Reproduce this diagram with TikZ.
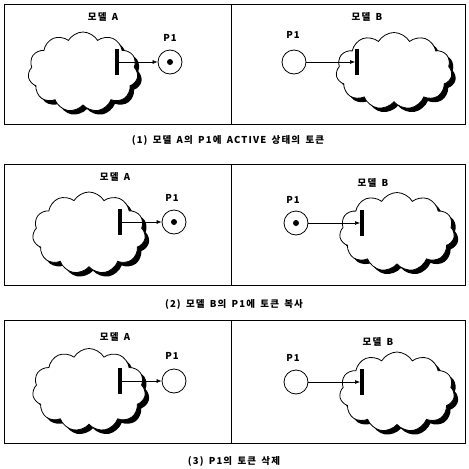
\documentclass[tikz,border=0pt]{standalone}
\usepackage{fontspec}
\setmainfont{Noto Sans CJK KR}
\newfontfamily\krsp{Noto Sans CJK KR}[LetterSpace=12,WordSpace=1.6]
\usetikzlibrary{shapes.symbols,shadows,arrows.meta}
\begin{document}
\begin{tikzpicture}[x=1pt,y=-1pt,
  cloudshape/.style={cloud, cloud puffs=11, cloud puff arc=120, cloud ignores aspect,
    draw, fill=white, line width=0.8pt, inner sep=0pt,
    drop shadow={shadow xshift=4pt, shadow yshift=-4pt, fill=black, opacity=1}},
  place/.style={circle, draw, line width=0.8pt, minimum size=24pt, inner sep=0pt, fill=white},
  tokendot/.style={circle, fill=black, minimum size=6pt, inner sep=0pt},
  tbar/.style={rectangle, fill=black, minimum width=3.6pt, minimum height=26pt, inner sep=0pt},
  lbl/.style={font=\krsp\bfseries\fontsize{9.5}{11}\selectfont, inner sep=0pt},
  captext/.style={font=\krsp\bfseries\fontsize{9.5}{11}\selectfont, inner sep=0pt},
  arr/.style={-{Latex[length=5pt,width=4pt]}, line width=0.6pt},
  frame/.style={line width=0.9pt}]
\useasboundingbox (0,0) rectangle (469,469);

% ---------- panel 1 ----------
\draw[frame] (4,4) rectangle (465,124);
\draw[frame] (231,4) -- (231,124);
\node[lbl] (ma1) at (103,17) {모델 A};
\node[cloudshape, minimum width=110pt, minimum height=80pt] (ca1) at (83,72) {};
\node[tbar] (ta1) at (117,62) {};
\node[place] (pa1) at (170,62) {};
\node[tokendot] (ka1) at (pa1) {};
\draw[arr] (ta1) -- (pa1);
\node[lbl] (la1) at (170,38) {P1};
\node[lbl] (mb1) at (367,17) {모델 B};
\node[cloudshape, minimum width=116pt, minimum height=77pt] (cb1) at (394,71) {};
\node[tbar] (tb1) at (357,62) {};
\node[place] (pb1) at (294,62) {};
\draw[arr] (pb1) -- (tb1);
\node[lbl] (lb1) at (293,35) {P1};
\node[captext] (c1) at (228,140) {(1) 모델 A의 P1에 ACTIVE 상태의 토큰};

% ---------- panel 2 ----------
\draw[frame] (4,164) rectangle (465,285);
\draw[frame] (231,164) -- (231,285);
\node[lbl] (ma2) at (115,177) {모델 A};
\node[cloudshape, minimum width=113pt, minimum height=82pt] (ca2) at (89,233) {};
\node[tbar] (ta2) at (120,222) {};
\node[place] (pa2) at (174,222) {};
\node[tokendot] (ka2) at (pa2) {};
\draw[arr] (ta2) -- (pa2);
\node[lbl] (la2) at (172,198) {P1};
\node[lbl] (mb2) at (373,183) {모델 B};
\node[cloudshape, minimum width=115pt, minimum height=79pt] (cb2) at (397,232) {};
\node[tbar] (tb2) at (362,223) {};
\node[place] (pb2) at (296,223) {};
\node[tokendot] (kb2) at (pb2) {};
\draw[arr] (pb2) -- (tb2);
\node[lbl] (lb2) at (293,200) {P1};
\node[captext] (c2) at (234,304) {(2) 모델 B의 P1에 토큰 복사};

% ---------- panel 3 ----------
\draw[frame] (4,320) rectangle (465,443);
\draw[frame] (231,320) -- (231,443);
\node[lbl] (ma3) at (115,337) {모델 A};
\node[cloudshape, minimum width=113pt, minimum height=83pt] (ca3) at (89,390) {};
\node[tbar] (ta3) at (120,381) {};
\node[place] (pa3) at (174,381) {};
\draw[arr] (ta3) -- (pa3);
\node[lbl] (la3) at (172,356) {P1};
\node[lbl] (mb3) at (378,342) {모델 B};
\node[cloudshape, minimum width=115pt, minimum height=80pt] (cb3) at (397,392) {};
\node[tbar] (tb3) at (362,382) {};
\node[place] (pb3) at (296,382) {};
\draw[arr] (pb3) -- (tb3);
\node[lbl] (lb3) at (293,358) {P1};
\node[captext] (c3) at (234,461) {(3) P1의 토큰 삭제};
\end{tikzpicture}
\end{document}
